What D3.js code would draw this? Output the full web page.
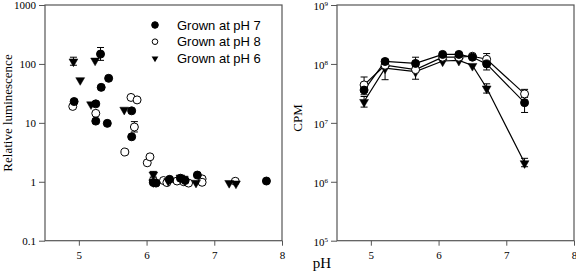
<!DOCTYPE html>
<html>
<head>
<meta charset="utf-8">
<script src="https://cdn.jsdelivr.net/npm/d3@7"></script>
<style>
  body { margin: 0; background: #fff; }
  svg { display: block; }
</style>
</head>
<body>
<div id="chart"></div>
<script>
/* DATA */
// left panel: relative luminescence vs pH
const lumPh7X = [4.93, 5.25, 5.25, 5.32, 5.33, 5.42, 5.44, 5.78, 5.78, 6.1, 6.14, 6.34, 6.5, 6.57, 6.75, 7.77];
const lumPh7Y = [23, 21, 10.7, 147, 40, 9.8, 57, 16, 5.8, 0.97, 0.95, 1.1, 1.15, 1.05, 1.3, 1.03];
const lumPh7Err = [null, null, null, [115, 190], null, null, null, null, null, null, null, null, null, null, null, null];

const lumPh8X = [4.91, 5.25, 5.68, 5.77, 5.82, 5.86, 6.01, 6.05, 6.1, 6.25, 6.3, 6.45, 6.55, 6.62, 6.82, 6.82, 7.31];
const lumPh8Y = [19, 14.5, 3.2, 27, 8.5, 24.5, 2.1, 2.65, 1.05, 1.05, 0.97, 1.03, 1.0, 0.95, 1.12, 0.98, 1.02];
const lumPh8Err = [null, null, null, null, [7, 10.5], null, null, null, null, null, null, null, null, null, null, null, null];

const lumPh6X = [4.92, 5.02, 5.18, 5.24, 5.67, 6.1, 6.1, 6.32, 6.5, 6.55, 6.73, 7.22, 7.32];
const lumPh6Y = [112, 54, 21, 116, 17, 1.35, 1.0, 1.05, 1.2, 1.15, 0.98, 0.97, 0.95];
const lumPh6Err = [[95, 130], null, null, null, null, [1.2, 1.5], null, null, null, null, null, null, null];

// right panel: CPM vs pH
const cpmX = [4.9, 5.21, 5.66, 6.06, 6.3, 6.5, 6.71, 7.27];
const cpmPh7 = [3.6e7, 1.1e8, 1.02e8, 1.45e8, 1.45e8, 1.3e8, 1.0e8, 2.2e7];
const cpmPh8 = [4.4e7, 9.5e7, 8.0e7, 1.3e8, 1.3e8, 1.35e8, 1.2e8, 3.1e7];
const cpmPh6 = [2.3e7, 8.5e7, 7.4e7, 1.12e8, 1.15e8, 9.4e7, 3.9e7, 2.1e6];
const cpmPh7Err = [[3.0e7, 4.3e7], null, [8.5e7, 1.3e8], null, null, null, [7.9e7, 1.2e8], [1.5e7, 3.0e7]];
const cpmPh8Err = [[3.4e7, 6.0e7], [5.4e7, 1.2e8], null, null, null, null, [1.0e8, 1.5e8], [2.7e7, 3.7e7]];
const cpmPh6Err = [[1.85e7, 2.8e7], null, [5.5e7, 9.0e7], null, null, null, [3.2e7, 4.6e7], [1.8e6, 2.5e6]];

const xTicks = [5, 6, 7, 8];
const lumTicks = [0.1, 1, 10, 100, 1000];
const lumTickLabels = ["0.1", "1", "10", "100", "1000"];
const cpmTicks = [1e5, 1e6, 1e7, 1e8, 1e9];
const cpmExp = ["5", "6", "7", "8", "9"];

const legendLabels = ["Grown at pH 7", "Grown at pH 8", "Grown at pH 6"];

/* LAYOUT */
const width = 576, height = 279;
const plotTop = 5, plotBottom = 240.7;
const panel1 = { x0: 45, x1: 282 };
const panel2 = { x0: 337, x1: 574 };
const r = 4;
const serif = "Liberation Serif, Times New Roman, serif";

const svg = d3.select("#chart").append("svg")
  .attr("width", width)
  .attr("height", height);

const tri = d3.symbol().type(d3.symbolTriangle).size(34)();
const triSmall = d3.symbol().type(d3.symbolTriangle).size(20)();

function drawMarker(g, x, y, kind) {
  if (kind === "tri") {
    g.append("path").attr("d", tri)
      .attr("transform", `translate(${x},${y + 0.5}) rotate(180)`)
      .attr("fill", "#000").attr("stroke", "#000").attr("stroke-width", 0.5);
  } else {
    g.append("circle").attr("cx", x).attr("cy", y).attr("r", r)
      .attr("fill", kind === "open" ? "#fff" : "#000")
      .attr("stroke", "#000").attr("stroke-width", 1);
  }
}

function drawErr(g, x, yScale, e) {
  if (!e) return;
  const y0 = yScale(e[0]), y1 = yScale(e[1]);
  g.append("line").attr("x1", x).attr("x2", x).attr("y1", y0).attr("y2", y1)
    .attr("stroke", "#000").attr("stroke-width", 1);
  [y0, y1].forEach(yy => g.append("line")
    .attr("x1", x - 3.5).attr("x2", x + 3.5).attr("y1", yy).attr("y2", yy)
    .attr("stroke", "#000").attr("stroke-width", 1));
}

function styleAxis(g) {
  g.select(".domain").remove();
  g.selectAll("line").attr("stroke", "#555");
  g.selectAll("text").attr("font-family", serif).attr("font-size", 11).attr("fill", "#000");
}

function frame(xs) {
  svg.append("rect")
    .attr("x", xs.range()[0]).attr("y", plotTop)
    .attr("width", xs.range()[1] - xs.range()[0]).attr("height", plotBottom - plotTop)
    .attr("fill", "none").attr("stroke", "#555").attr("stroke-width", 1.2);
  svg.append("g")
    .attr("transform", `translate(0,${plotBottom})`)
    .call(d3.axisBottom(xs).tickValues(xTicks).tickSize(5).tickSizeOuter(0).tickPadding(6).tickFormat(d3.format("d")))
    .call(styleAxis);
}

/* LEFT PANEL */
const x1s = d3.scaleLinear().domain([4.5, 8]).range([panel1.x0, panel1.x1]);
const y1s = d3.scaleLog().domain([0.1, 1000]).range([plotBottom, plotTop]);
frame(x1s);
svg.append("g")
  .attr("transform", `translate(${panel1.x0},0)`)
  .call(d3.axisLeft(y1s).tickValues(lumTicks).tickSize(6).tickPadding(3)
    .tickFormat((d, i) => lumTickLabels[i]))
  .call(styleAxis);

const gL = svg.append("g");
const lumSeries = [
  { x: lumPh8X, y: lumPh8Y, e: lumPh8Err, kind: "open" },
  { x: lumPh6X, y: lumPh6Y, e: lumPh6Err, kind: "tri" },
  { x: lumPh7X, y: lumPh7Y, e: lumPh7Err, kind: "filled" }
];
lumSeries.forEach(s => s.x.forEach((v, i) => drawErr(gL, x1s(v), y1s, s.e[i])));
lumSeries.forEach(s => s.x.forEach((v, i) => drawMarker(gL, x1s(v), y1s(s.y[i]), s.kind)));

// legend
const legend = svg.append("g");
["filled", "open", "tri"].forEach((k, i) => {
  const yy = 25 + i * 16.7;
  if (k === "tri") legend.append("path").attr("d", triSmall)
    .attr("transform", `translate(155,${yy}) rotate(180)`).attr("fill", "#000");
  else legend.append("circle").attr("cx", 155).attr("cy", yy).attr("r", k === "open" ? 2.8 : 3.3)
    .attr("fill", k === "open" ? "#fff" : "#000").attr("stroke", "#000");
  legend.append("text").attr("x", 177).attr("y", yy + 4.5)
    .attr("font-family", "Liberation Sans, Arial, sans-serif").attr("font-size", 13)
    .text(legendLabels[i]);
});

svg.append("text")
  .attr("transform", `translate(12,113) rotate(-90)`)
  .attr("text-anchor", "middle")
  .attr("font-family", serif).attr("font-size", 13)
  .text("Relative luminescence");

/* RIGHT PANEL */
const x2s = d3.scaleLinear().domain([4.5, 8]).range([panel2.x0, panel2.x1]);
const y2s = d3.scaleLog().domain([1e5, 1e9]).range([plotBottom, plotTop]);
frame(x2s);
const yAx2 = svg.append("g")
  .attr("transform", `translate(${panel2.x0},0)`)
  .call(d3.axisLeft(y2s).tickValues(cpmTicks).tickSize(6).tickPadding(3).tickFormat(() => ""))
  .call(styleAxis);
yAx2.selectAll(".tick text").each(function (d, i) {
  const t = d3.select(this).text("").attr("dy", "0.45em");
  t.append("tspan").text("10");
  t.append("tspan").attr("font-size", 7).attr("dy", -4).text(cpmExp[i]);
});

const gR = svg.append("g");
const cpmSeries = [
  { y: cpmPh6, e: cpmPh6Err, kind: "tri" },
  { y: cpmPh8, e: cpmPh8Err, kind: "open" },
  { y: cpmPh7, e: cpmPh7Err, kind: "filled" }
];
const line = d3.line().x(d => x2s(d[0])).y(d => y2s(d[1]));
cpmSeries.forEach(s => {
  gR.append("path")
    .attr("d", line(cpmX.map((v, i) => [v, s.y[i]])))
    .attr("fill", "none").attr("stroke", "#000").attr("stroke-width", 1.2);
});
cpmSeries.forEach(s => cpmX.forEach((v, i) => drawErr(gR, x2s(v), y2s, s.e[i])));
cpmSeries.forEach(s => cpmX.forEach((v, i) => drawMarker(gR, x2s(v), y2s(s.y[i]), s.kind)));

svg.append("text")
  .attr("transform", `translate(302,118) rotate(-90)`)
  .attr("text-anchor", "middle")
  .attr("font-family", serif).attr("font-size", 13)
  .text("CPM");

svg.append("text")
  .attr("x", 322).attr("y", 268)
  .attr("text-anchor", "middle")
  .attr("font-family", serif).attr("font-size", 15)
  .text("pH");
</script>
</body>
</html>
